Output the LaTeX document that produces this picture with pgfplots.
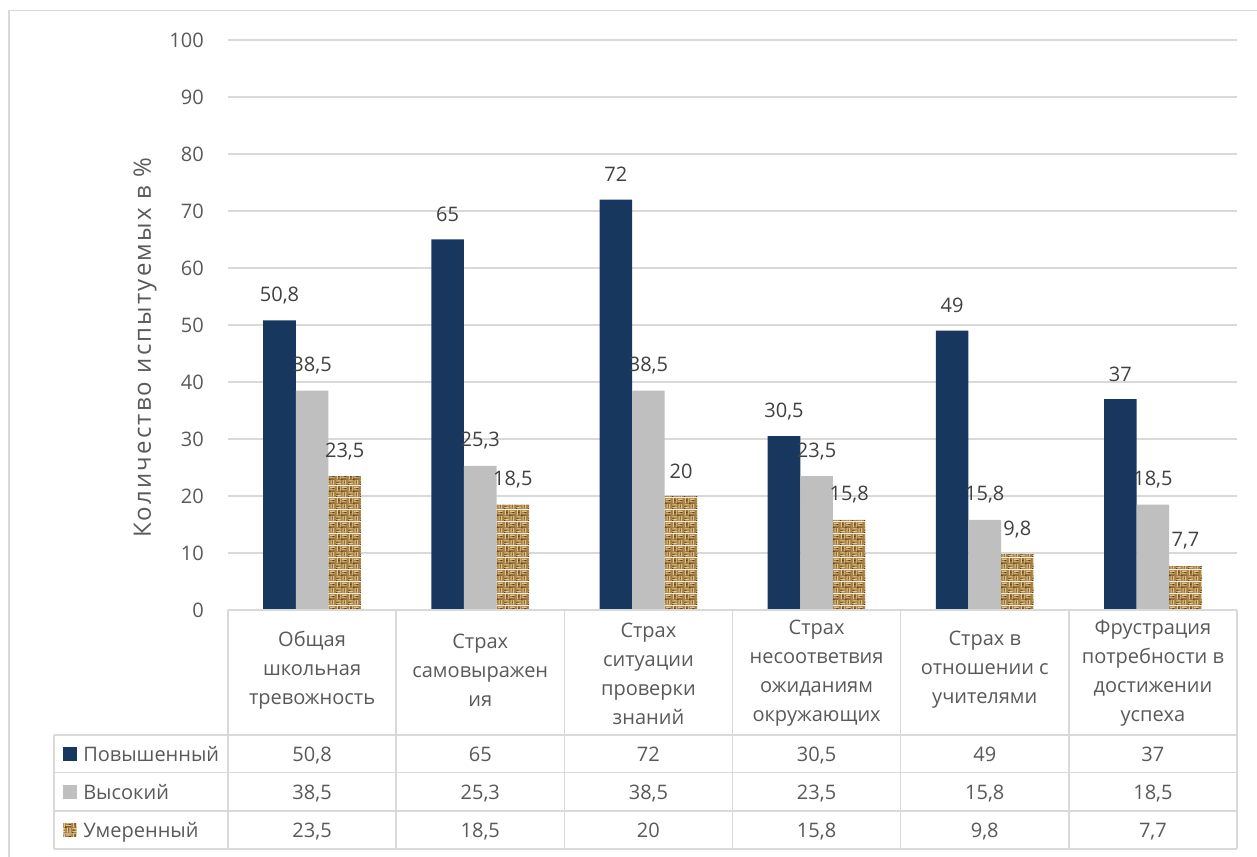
\documentclass[border=0pt]{standalone}
\usepackage{fontspec}
\setmainfont{Open Sans}
\usepackage{pgfplots}
\usepackage{pgfplotstable}
\pgfplotsset{compat=1.18}
\usetikzlibrary{patterns}

\definecolor{navy}{RGB}{23,55,94}
\definecolor{lightbar}{RGB}{191,191,191}
\definecolor{gridgray}{RGB}{217,217,217}
\definecolor{txt}{RGB}{89,89,89}
\definecolor{lbl}{RGB}{64,64,64}
\definecolor{burlapbase}{RGB}{166,128,70}
\definecolor{burlaplight}{RGB}{228,200,138}
\definecolor{burlapdark}{RGB}{92,62,26}

% woven sack-cloth fill for the third series
\pgfdeclarepatterninherentlycolored{burlap}
{\pgfpointorigin}{\pgfpoint{9pt}{9pt}}
{\pgfpoint{9pt}{9pt}}
{%
  \pgfsetfillcolor{burlapbase}%
  \pgfpathrectangle{\pgfpointorigin}{\pgfpoint{9pt}{9pt}}%
  \pgfusepath{fill}%
  \pgfsetfillcolor{burlaplight}%
  \pgfpathrectangle{\pgfpoint{0.3pt}{0.8pt}}{\pgfpoint{3.9pt}{0.9pt}}%
  \pgfpathrectangle{\pgfpoint{0.3pt}{2.9pt}}{\pgfpoint{3.9pt}{0.9pt}}%
  \pgfpathrectangle{\pgfpoint{4.8pt}{5.3pt}}{\pgfpoint{3.9pt}{0.9pt}}%
  \pgfpathrectangle{\pgfpoint{4.8pt}{7.4pt}}{\pgfpoint{3.9pt}{0.9pt}}%
  \pgfpathrectangle{\pgfpoint{0.8pt}{4.8pt}}{\pgfpoint{0.9pt}{3.9pt}}%
  \pgfpathrectangle{\pgfpoint{2.9pt}{4.8pt}}{\pgfpoint{0.9pt}{3.9pt}}%
  \pgfpathrectangle{\pgfpoint{5.3pt}{0.3pt}}{\pgfpoint{0.9pt}{3.9pt}}%
  \pgfpathrectangle{\pgfpoint{7.4pt}{0.3pt}}{\pgfpoint{0.9pt}{3.9pt}}%
  \pgfusepath{fill}%
  \pgfsetfillcolor{burlapdark}%
  \pgfpathrectangle{\pgfpoint{4pt}{4pt}}{\pgfpoint{1.1pt}{1.1pt}}%
  \pgfpathrectangle{\pgfpoint{0pt}{0pt}}{\pgfpoint{0.9pt}{0.9pt}}%
  \pgfpathrectangle{\pgfpoint{1.8pt}{6.6pt}}{\pgfpoint{1.1pt}{0.7pt}}%
  \pgfpathrectangle{\pgfpoint{6.3pt}{2.1pt}}{\pgfpoint{1.1pt}{0.7pt}}%
  \pgfpathrectangle{\pgfpoint{0.4pt}{1.9pt}}{\pgfpoint{1.6pt}{0.7pt}}%
  \pgfpathrectangle{\pgfpoint{6.8pt}{6.4pt}}{\pgfpoint{1.6pt}{0.7pt}}%
  \pgfpathrectangle{\pgfpoint{2.2pt}{4.3pt}}{\pgfpoint{0.6pt}{4.4pt}}%
  \pgfpathrectangle{\pgfpoint{4.3pt}{4.6pt}}{\pgfpoint{4.4pt}{0.5pt}}%
  \pgfusepath{fill}%
}

\pgfkeys{/pgf/number format/.cd, use comma, assume math mode=true}

% levels of school anxiety, % of respondents
\pgfplotstableread{
x elevated high moderate
0 50.8 38.5 23.5
1 65   25.3 18.5
2 72   38.5 20
3 30.5 23.5 15.8
4 49   15.8 9.8
5 37   18.5 7.7
}\data

\begin{document}
\begin{tikzpicture}[font=\fontsize{15}{18}\selectfont, text=txt]
\useasboundingbox (-171pt,-185.25pt) rectangle (771.75pt,457.5pt);
\begin{axis}[
  at={(0pt,0pt)}, anchor=south west,
  scale only axis, width=756.75pt, height=427.5pt,
  xmin=-0.5, xmax=5.5, ymin=0, ymax=100,
  ytick={0,10,...,100}, xtick=\empty,
  ymajorgrids, major grid style={draw=gridgray, line width=1pt},
  axis line style={draw=none},
  major tick length=0pt, tick style={draw=none},
  yticklabel style={anchor=east, inner sep=0pt, xshift=-18pt, text=txt},
  ybar=0pt, bar width=24.45pt,
  nodes near coords,
  every node near coord/.append style={anchor=center, yshift=18.75pt, inner sep=0pt, text=lbl},
  clip=false,
]
\addplot[fill=navy, draw=none] table[x=x, y=elevated]{\data};
\addplot[fill=lightbar, draw=none] table[x=x, y=high]{\data};
\addplot[pattern=burlap, draw=none] table[x=x, y=moderate]{\data};
\end{axis}

\begin{scope}[x=0.75pt, y=-0.75pt, shift={(-228,-610)}]
  % outer frame
  \draw[gridgray, line width=1.1pt] (9,870) -- (9,10.5) -- (1270,10.5);
  % y axis title
  \node[rotate=90, font=\fontsize{18}{21}\selectfont] at (145,348) {\addfontfeatures{LetterSpace=9}Количество испытуемых в \%};
  % data table grid
  \begin{scope}[gridgray, line width=1.1pt]
    \draw (228,610) -- (1237,610);
    \foreach \yy in {735,772.7,811,849} \draw (54,\yy) -- (1237,\yy);
    \draw (54,735) -- (54,849);
    \foreach \k in {0,...,6} \draw ({228+168.1667*\k},610) -- ({228+168.1667*\k},849);
  \end{scope}
  % category names
  \begin{scope}[every node/.style={align=center, font=\fontsize{15}{21.75}\selectfont, text=txt}]
    \node at (312.08,670) {Общая\\школьная\\тревожность};
    \node at (480.25,670) {Страх\\самовыражен\\ия};
    \node at (648.42,673.5) {Страх\\ситуации\\проверки\\знаний};
    \node at (816.58,673.5) {Страх\\несоответвия\\ожиданиям\\окружающих};
    \node at (984.75,670) {Страх в\\отношении с\\учителями};
    \node at (1152.92,673.5) {Фрустрация\\потребности в\\достижении\\успеха};
  \end{scope}
  % series keys and names
  \fill[navy] (63.3,747.3) rectangle (76.7,760.7);
  \fill[lightbar] (63.3,785.3) rectangle (76.7,798.7);
  \fill[pattern=burlap] (63.3,823.3) rectangle (76.7,836.7);
  \node[anchor=base west, inner sep=0pt] at (83,761) {Повышенный};
  \node[anchor=base west, inner sep=0pt] at (83,799) {Высокий};
  \node[anchor=base west, inner sep=0pt] at (83,837) {Умеренный};
  % table values
  \foreach \i in {0,...,5} {
    \pgfplotstablegetelem{\i}{elevated}\of\data
    \node[anchor=base, inner sep=0pt] at ({312.08+168.1667*\i},761) {\pgfmathprintnumber{\pgfplotsretval}};
    \pgfplotstablegetelem{\i}{high}\of\data
    \node[anchor=base, inner sep=0pt] at ({312.08+168.1667*\i},799) {\pgfmathprintnumber{\pgfplotsretval}};
    \pgfplotstablegetelem{\i}{moderate}\of\data
    \node[anchor=base, inner sep=0pt] at ({312.08+168.1667*\i},837) {\pgfmathprintnumber{\pgfplotsretval}};
  }
\end{scope}
\end{tikzpicture}
\end{document}
